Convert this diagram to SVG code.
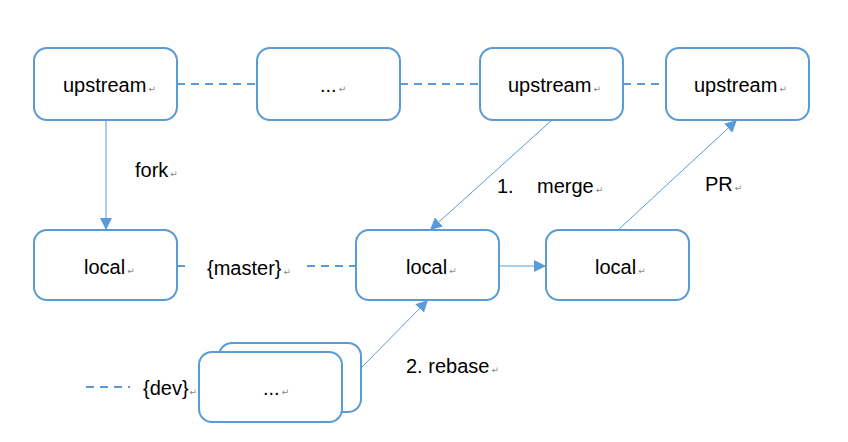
<svg xmlns="http://www.w3.org/2000/svg" width="848" height="442" viewBox="0 0 848 442">
<style>
.box{fill:#fff;stroke:#5B9BD5;stroke-width:2}
.t{font-family:"Liberation Sans",Arial,sans-serif;font-size:20px;fill:#000}
.r{font-family:"DejaVu Sans",sans-serif;font-size:9px;fill:#888}
.ln{stroke:#5B9BD5;stroke-width:1;fill:none}
.dash{stroke:#5B9BD5;stroke-width:2;stroke-dasharray:8 6;fill:none}
</style>
<defs>
<marker id="ah" viewBox="0 0 10 10" refX="10" refY="5" markerWidth="12" markerHeight="12" markerUnits="userSpaceOnUse" orient="auto">
<path d="M0,0 L10,5 L0,10 z" fill="#5B9BD5"/>
</marker>
</defs>
<rect width="848" height="442" fill="#fff"/>
<g id="connectors">
<line class="dash" x1="177" y1="84" x2="257" y2="84"/>
<line class="dash" x1="400" y1="84" x2="480" y2="84"/>
<line class="dash" x1="623" y1="84" x2="666" y2="84"/>
<line class="dash" x1="177" y1="266" x2="186" y2="266"/>
<line class="dash" x1="307" y1="266" x2="356" y2="266"/>
<line class="ln" x1="106" y1="120" x2="106" y2="230" marker-end="url(#ah)"/>
<line class="ln" x1="552" y1="120" x2="430" y2="230" marker-end="url(#ah)"/>
<line class="ln" x1="618" y1="230" x2="737" y2="120" marker-end="url(#ah)"/>
<line class="ln" x1="499" y1="266" x2="546" y2="266" marker-end="url(#ah)"/>
<line class="ln" x1="361" y1="368" x2="428" y2="300" marker-end="url(#ah)"/>
</g>
<g id="upstream1"><rect class="box" x="34" y="48" width="143" height="72" rx="13"/><text class="t" x="63" y="92">upstream<tspan class="r" dx="2">↵</tspan></text></g>
<g id="dots1"><rect class="box" x="257" y="48" width="143" height="72" rx="13"/><text class="t" x="320" y="92">...<tspan class="r" dx="2">↵</tspan></text></g>
<g id="upstream2"><rect class="box" x="480" y="48" width="143" height="72" rx="13"/><text class="t" x="508" y="92">upstream<tspan class="r" dx="2">↵</tspan></text></g>
<g id="upstream3"><rect class="box" x="666" y="48" width="143" height="72" rx="13"/><text class="t" x="694" y="92">upstream<tspan class="r" dx="2">↵</tspan></text></g>
<g id="local1"><rect class="box" x="34" y="230" width="143" height="70" rx="13"/><text class="t" x="84" y="274">local<tspan class="r" dx="2">↵</tspan></text></g>
<g id="local2"><rect class="box" x="356" y="230" width="143" height="70" rx="13"/><text class="t" x="406" y="274">local<tspan class="r" dx="2">↵</tspan></text></g>
<g id="local3"><rect class="box" x="546" y="230" width="143" height="70" rx="13"/><text class="t" x="595" y="274">local<tspan class="r" dx="2">↵</tspan></text></g>
<g id="dev"><rect class="box" x="219" y="343" width="142" height="69" rx="13"/><rect class="box" x="199" y="352" width="143" height="70" rx="13"/><text class="t" x="263" y="395">...<tspan class="r" dx="2">↵</tspan></text></g>
<g id="labels">
<text class="t" x="135" y="177">fork<tspan class="r" dx="2">↵</tspan></text>
<text class="t" x="497" y="193">1.</text><text class="t" x="537" y="193">merge<tspan class="r" dx="2">↵</tspan></text>
<text class="t" x="705" y="191">PR<tspan class="r" dx="2">↵</tspan></text>
<text class="t" x="207" y="275">{master}<tspan class="r" dx="2">↵</tspan></text>
<text class="t" x="406" y="373">2. rebase<tspan class="r" dx="2">↵</tspan></text>
<line class="dash" x1="86" y1="387" x2="130" y2="387"/>
<text class="t" x="143" y="395">{dev}<tspan class="r" dx="1">↵</tspan></text>
</g>
</svg>
